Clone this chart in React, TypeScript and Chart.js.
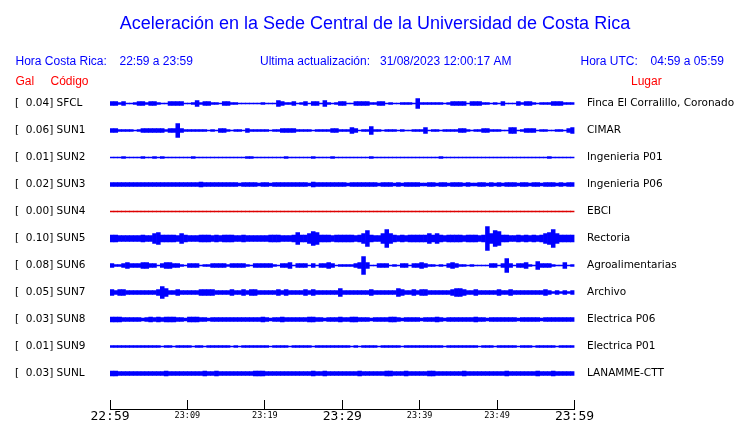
import React, { useEffect, useRef } from 'react';
import { Chart, registerables } from 'chart.js';

Chart.register(...registerables);

// ---------------- data ----------------
const titleText = 'Aceleración en la Sede Central de la Universidad de Costa Rica';
const localHoursLabel = 'Hora Costa Rica:';
const localHours = '22:59 a 23:59';
const updateLabel = 'Ultima actualización:';
const updateValue = '31/08/2023 12:00:17 AM';
const utcHoursLabel = 'Hora UTC:';
const utcHours = '04:59 a 05:59';
const galHeader = 'Gal';
const codeHeader = 'Código';
const placeHeader = 'Lugar';

const codes = ['SFCL', 'SUN1', 'SUN2', 'SUN3', 'SUN4', 'SUN5', 'SUN6', 'SUN7', 'SUN8', 'SUN9', 'SUNL'];
const galPeaks = [0.04, 0.06, 0.01, 0.02, 0.0, 0.1, 0.08, 0.05, 0.03, 0.01, 0.03];
const places = [
  'Finca El Corralillo, Coronado',
  'CIMAR',
  'Ingenieria P01',
  'Ingenieria P06',
  'EBCI',
  'Rectoria',
  'Agroalimentarias',
  'Archivo',
  'Electrica P06',
  'Electrica P01',
  'LANAMME-CTT',
];
const inactiveStations = ['SUN4'];

const timeTickLabels = ['22:59', '', '23:09', '', '23:19', '', '23:29', '', '23:39', '', '23:49', '', '23:59'];
const majorTimeLabels = ['22:59', '23:29', '23:59'];

// peak amplitude (half-height) per 30-second window, 120 windows from 22:59 to 23:59
const ampSFCL = [
  2, 2, 1, 2, 0, 0, 1, 2, 2, 1, 2, 2, 1, 0, 0, 2, 2, 2, 2, 0, 0, 1, 3, 1, 2, 2, 1, 1, 0, 2,
  2, 1, 1, 0, 0, 0, 0, 0, 0, 1, 0, 0, 0, 3, 2, 1, 1, 2, 0, 1, 2, 0, 2, 2, 0, 3, 1, 0, 1, 2,
  2, 0, 0, 2, 2, 2, 2, 1, 1, 2, 2, 0, 1, 0, 0, 1, 1, 1, 0, 5, 1, 1, 1, 1, 1, 1, 0, 1, 2, 2,
  2, 2, 0, 2, 2, 2, 1, 1, 0, 1, 0, 2, 0, 0, 0, 2, 1, 2, 2, 1, 0, 1, 1, 1, 2, 2, 2, 1, 1, 1,
];
const ampSUN1 = [
  2, 2, 1, 1, 1, 1, 0, 1, 2, 2, 2, 2, 2, 2, 1, 2, 2, 7, 2, 1, 1, 1, 1, 1, 1, 0, 1, 0, 2, 2,
  1, 0, 1, 1, 0, 2, 1, 1, 1, 1, 1, 0, 1, 1, 2, 2, 2, 2, 1, 1, 1, 1, 0, 1, 1, 1, 1, 2, 2, 1,
  1, 1, 3, 2, 0, 1, 1, 4, 1, 1, 0, 1, 1, 1, 0, 1, 0, 0, 1, 1, 1, 3, 0, 1, 1, 0, 1, 1, 1, 1,
  2, 2, 1, 0, 1, 1, 2, 2, 1, 1, 1, 0, 0, 3, 3, 0, 1, 2, 2, 2, 0, 1, 1, 0, 0, 1, 1, 0, 2, 3,
];
const ampSUN2 = [
  0, 0, 0, 1, 0, 0, 0, 0, 1, 0, 0, 1, 0, 1, 0, 0, 0, 0, 0, 0, 0, 1, 0, 0, 0, 0, 0, 0, 0, 0,
  0, 0, 0, 0, 0, 1, 1, 0, 0, 0, 0, 0, 0, 0, 0, 1, 0, 0, 0, 0, 0, 0, 1, 0, 0, 0, 0, 1, 0, 0,
  0, 0, 0, 0, 0, 0, 0, 1, 0, 0, 0, 0, 0, 0, 0, 0, 0, 0, 0, 0, 0, 0, 0, 0, 0, 1, 0, 0, 0, 0,
  0, 0, 0, 0, 0, 0, 0, 0, 0, 0, 0, 0, 0, 0, 0, 0, 0, 0, 0, 0, 0, 0, 0, 1, 0, 0, 0, 0, 0, 0,
];
const ampSUN3 = [
  2, 2, 2, 2, 2, 2, 2, 2, 2, 2, 2, 2, 2, 2, 2, 2, 2, 2, 2, 2, 2, 2, 2, 2.5, 2, 2, 2, 2, 2, 2,
  2, 2, 2, 1.5, 2, 2, 2, 2, 1.5, 2, 2, 1.5, 2, 2, 2, 2, 2, 2, 2, 2, 2, 1.5, 2.5, 2, 2, 2, 2, 2, 2, 2,
  2, 1.5, 2, 2, 2, 2, 2, 2, 2, 1.5, 2, 2, 2, 1.5, 2, 1.5, 2, 2, 2, 2, 1.5, 1.5, 2, 2, 1.5, 2, 2, 1.5, 2, 2,
  2, 1.5, 2, 1.5, 1.5, 2, 2, 1.5, 2, 1.5, 2, 1.5, 2, 2, 2, 1.5, 2, 2, 1.5, 2, 2, 1.5, 2, 2, 2, 1.5, 2, 1.5, 2, 2,
];
const ampSUN4 = [
  0, 0, 0, 0, 0, 0, 0, 0, 0, 0, 0, 0, 0, 0, 0, 0, 0, 0, 0, 0, 0, 0, 0, 0, 0, 0, 0, 0, 0, 0,
  0, 0, 0, 0, 0, 0, 0, 0, 0, 0, 0, 0, 0, 0, 0, 0, 0, 0, 0, 0, 0, 0, 0, 0, 0, 0, 0, 0, 0, 0,
  0, 0, 0, 0, 0, 0, 0, 0, 0, 0, 0, 0, 0, 0, 0, 0, 0, 0, 0, 0, 0, 0, 0, 0, 0, 0, 0, 0, 0, 0,
  0, 0, 0, 0, 0, 0, 0, 0, 0, 0, 0, 0, 0, 0, 0, 0, 0, 0, 0, 0, 0, 0, 0, 0, 0, 0, 0, 0, 0, 0,
];
const ampSUN5 = [
  3.5, 3.5, 3, 3, 3, 3, 3, 3, 3.5, 3, 3, 5, 6, 3.5, 3.5, 3.5, 3.5, 3, 5, 3.5, 3, 3, 3, 3.5, 3.5, 3.5, 3, 3.5, 3, 3.5,
  3.5, 3.5, 3, 3, 3.5, 3, 3, 3, 3, 3, 3, 3.5, 3.5, 3.5, 3, 3, 3, 3.5, 6, 3.5, 3.5, 5, 7, 6, 3.5, 3.5, 3.5, 3, 3.5, 3.5,
  3.5, 3.5, 3.5, 3, 3.5, 5, 8, 3.5, 3, 3, 5, 9, 5, 3.5, 3, 3.5, 3, 3.5, 3.5, 3.5, 3.5, 3.5, 5, 3.5, 5, 3.5, 3, 3.5, 3.5, 3.5,
  3.5, 3, 3.5, 3.5, 3.5, 3, 3.5, 12, 5, 8, 7, 3.5, 3.5, 3, 3, 3.5, 3, 3.5, 3, 3.5, 3, 3.5, 5, 6, 9, 5, 3.5, 3.5, 3.5, 3.5,
];
const ampSUN6 = [
  2, 1, 1, 2, 3, 2, 2, 2, 3, 3, 2, 2, 0, 2, 3, 3, 2, 2, 1, 0, 2, 2, 2, 0, 1, 1, 2, 2, 2, 2,
  1, 2, 2, 2, 2, 1, 0, 2, 2, 2, 2, 2, 1, 0, 2, 2, 3, 0, 2, 2, 2, 0, 2, 0, 2, 2, 3, 2, 0, 1,
  1, 1, 1, 2, 3, 9, 3, 0, 0, 2, 2, 2, 0, 1, 0, 2, 2, 0, 2, 2, 3, 2, 1, 1, 0, 1, 0, 2, 3, 2,
  1, 1, 0, 1, 0, 0, 0, 0, 2, 2, 0, 2, 7, 2, 0, 2, 2, 3, 1, 0, 4, 2, 2, 2, 1, 0, 0, 3, 0, 1,
];
const ampSUN7 = [
  3, 2, 3, 3, 2, 2, 2, 2, 2, 2, 2, 2, 3, 6, 4, 2, 2, 3, 2, 2, 2, 2, 2, 3, 3, 3, 3, 2, 2, 2,
  2, 3, 2, 2, 3, 2, 3, 3, 2, 2, 2, 2, 2, 3, 2, 3, 2, 2, 2, 2, 3, 2, 3, 2, 2, 2, 2, 2, 2, 4,
  2, 2, 2, 2, 2, 2, 2, 3, 2, 2, 2, 2, 2, 2, 4, 3, 2, 2, 3, 2, 3, 3, 2, 2, 2, 2, 2, 2, 3, 4,
  4, 3, 2, 2, 3, 2, 2, 2, 2, 2, 3, 2, 2, 3, 2, 2, 2, 2, 2, 2, 2, 2, 3, 2, 1, 2, 1, 2, 1, 2,
];
const ampSUN8 = [
  2.5, 2.5, 2.5, 2, 2, 2, 2, 2, 1.5, 2, 2.5, 2, 2.5, 2, 2.5, 2.5, 2.5, 2, 2, 1.5, 2.5, 2.5, 2.5, 2, 2, 1.5, 2, 2, 2, 2,
  2, 2, 2, 2, 2, 2, 2, 2, 2, 2.5, 2, 1.5, 2, 2, 2.5, 2, 2, 2, 2, 2, 2, 2.5, 2.5, 2, 2, 1.5, 2, 2, 2, 2.5,
  2, 2, 2.5, 2.5, 2, 2, 2, 1.5, 2, 2, 2, 2, 2.5, 2.5, 2, 1.5, 2, 2, 2, 2, 1.5, 2, 2, 2, 2.5, 2, 1.5, 2, 2, 2,
  2, 2, 2, 2, 2.5, 2, 2, 1.5, 2, 2, 2, 2, 2, 2, 2, 1.5, 2, 2, 2, 2, 2, 1.5, 2, 2, 2, 2, 2, 2, 2, 2,
];
const ampSUN9 = [
  1, 1, 1, 1, 1, 1, 1, 1, 1, 1, 1, 1, 1, 0, 1, 1, 0, 1, 1, 1, 1, 0, 1, 1, 0, 1, 1, 1, 1, 1,
  1, 0, 1, 0, 1, 1, 1, 1, 1, 1, 1, 0, 1, 1, 1, 1, 0, 1, 1, 1, 1, 1, 0, 1, 1, 1, 1, 1, 1, 1,
  1, 1, 0, 1, 0, 1, 1, 1, 1, 0, 1, 1, 1, 1, 1, 0, 1, 1, 1, 1, 1, 1, 1, 1, 1, 1, 0, 1, 1, 1,
  1, 1, 1, 1, 1, 0, 1, 1, 1, 0, 1, 1, 1, 1, 1, 0, 1, 1, 1, 0, 1, 1, 1, 1, 1, 0, 1, 1, 1, 1,
];
const ampSUNL = [
  2.5, 2.5, 2, 2, 2, 2, 2, 2, 2, 2, 2, 2, 2, 2, 2.5, 2, 2, 2, 2, 2, 2, 2, 2, 2, 2.5, 2, 2, 2.5, 2, 2,
  2, 2, 2, 2, 2, 2, 2, 2.5, 2.5, 2.5, 2, 2, 2, 2, 2, 2, 2, 2, 2, 2, 2, 2, 2.5, 2, 2, 2.5, 2, 2, 2, 2,
  2, 2, 2, 2, 2.5, 2, 2, 2, 2, 2, 2, 2.5, 2.5, 2, 2, 2, 2.5, 2, 2, 2, 2, 2, 2.5, 2.5, 2, 2, 2, 2, 2, 2,
  2, 2.5, 2, 2, 2, 2, 2, 2, 2, 2, 2, 2, 2.5, 2, 2, 2, 2, 2, 2, 2, 2.5, 2, 2, 2, 2.5, 2, 2, 2, 2, 2,
];

const amplitudes = [ampSFCL, ampSUN1, ampSUN2, ampSUN3, ampSUN4, ampSUN5, ampSUN6, ampSUN7, ampSUN8, ampSUN9, ampSUNL];

// ---------------- styling ----------------
const BLUE = '#0000ff';
const RED = '#ff0000';
const TRACE_RED = '#dd0000';
const PX_PER_ROW = 27;
const Y_MIN = -14.5 / PX_PER_ROW;
const Y_MAX = Y_MIN + 320 / PX_PER_ROW;
const SANS = '"Liberation Sans", Arial, sans-serif';

const binLabels = ampSFCL.map((_, i) => {
  const totalSec = (22 * 60 + 59) * 60 + i * 30;
  const h = Math.floor(totalSec / 3600) % 24;
  const m = Math.floor((totalSec % 3600) / 60);
  const s = totalSec % 60;
  return `${String(h).padStart(2, '0')}:${String(m).padStart(2, '0')}:${String(s).padStart(2, '0')}`;
});

const leftLabels = codes.map((c, i) => `[${galPeaks[i].toFixed(2).padStart(6, ' ')}] ${c}`);

const headerPlugin = {
  id: 'headerText',
  afterDraw(chart: any) {
    const ctx = chart.ctx as CanvasRenderingContext2D;
    ctx.save();
    ctx.textBaseline = 'middle';
    ctx.textAlign = 'center';
    ctx.fillStyle = BLUE;
    ctx.font = `18px ${SANS}`;
    ctx.fillText(titleText, 375, 24);
    ctx.textAlign = 'left';
    ctx.font = `12px ${SANS}`;
    ctx.fillText(localHoursLabel, 15.5, 61.5);
    ctx.fillText(localHours, 119.5, 61.5);
    ctx.fillText(updateLabel, 260, 61.5);
    ctx.fillText(updateValue, 380, 61.5);
    ctx.fillText(utcHoursLabel, 580.5, 61.5);
    ctx.fillText(utcHours, 650.5, 61.5);
    ctx.fillStyle = RED;
    ctx.fillText(galHeader, 15.5, 81.5);
    ctx.fillText(codeHeader, 50.5, 81.5);
    ctx.fillText(placeHeader, 631, 81.5);
    ctx.restore();
  },
};

export default function App() {
  const canvasRef = useRef<HTMLCanvasElement>(null);

  useEffect(() => {
    const canvas = canvasRef.current;
    if (!canvas) return;
    const rows = codes.map((_, i) => i);
    const datasets = amplitudes.map((amp, row) => ({
      label: codes[row],
      data: amp.map((v) => {
        const h = Math.max(0.5, v) / PX_PER_ROW;
        return [row - h, row + h];
      }),
      backgroundColor: inactiveStations.includes(codes[row]) ? TRACE_RED : BLUE,
      borderWidth: 0,
      barPercentage: 1,
      categoryPercentage: 1,
      grouped: false,
      xAxisID: 'x',
      yAxisID: 'y',
    }));

    const chart = new Chart(canvas, {
      type: 'bar',
      data: { labels: binLabels, datasets: datasets as any },
      options: {
        animation: false,
        responsive: false,
        devicePixelRatio: 1,
        events: [],
        layout: { padding: { top: 89, left: 15, right: 0, bottom: 0 } },
        plugins: {
          legend: { display: false },
          tooltip: { enabled: false },
          title: { display: false },
        },
        scales: {
          x: { type: 'category', display: false, offset: true },
          time: {
            type: 'linear',
            axis: 'x',
            position: 'bottom',
            min: 0,
            max: 60,
            offset: false,
            grid: {
              display: true,
              drawOnChartArea: false,
              drawTicks: true,
              tickLength: -9,
              color: '#000',
              lineWidth: 1,
              offset: false,
            },
            border: { display: true, color: '#000', width: 1 },
            ticks: {
              stepSize: 5,
              autoSkip: false,
              maxRotation: 0,
              minRotation: 0,
              padding: 9,
              color: '#000',
              callback: (_v: any, i: number) => timeTickLabels[i],
              font: (ctx: any) => {
                const major = majorTimeLabels.includes(timeTickLabels[ctx.index]);
                return {
                  family: '"DejaVu Sans Mono", monospace',
                  size: major ? 13 : 8.5,
                  lineHeight: major ? 1.2 : 1.55,
                };
              },
            },
            afterFit: (s: any) => {
              s.height = 14;
            },
          } as any,
          y: {
            type: 'linear',
            position: 'left',
            reverse: true,
            min: Y_MIN,
            max: Y_MAX,
            grid: { display: false },
            border: { display: false },
            afterBuildTicks: (s: any) => {
              s.ticks = rows.map((v) => ({ value: v }));
            },
            ticks: {
              autoSkip: false,
              crossAlign: 'far',
              padding: 0,
              color: '#000',
              font: { family: '"DejaVu Sans", sans-serif', size: 10.5 },
              callback: (_v: any, i: number) => leftLabels[i],
            },
            afterFit: (s: any) => {
              s.width = 95;
            },
          } as any,
          yR: {
            type: 'linear',
            position: 'right',
            reverse: true,
            min: Y_MIN,
            max: Y_MAX,
            grid: {
              display: true,
              drawOnChartArea: false,
              drawTicks: true,
              tickLength: 12.5,
              color: 'rgba(0,0,0,0)',
            },
            border: { display: false },
            afterBuildTicks: (s: any) => {
              s.ticks = rows.map((v) => ({ value: v }));
            },
            ticks: {
              autoSkip: false,
              crossAlign: 'near',
              padding: 0,
              color: '#000',
              font: { family: '"DejaVu Sans", sans-serif', size: 10.5 },
              callback: (_v: any, i: number) => places[i],
            },
            afterFit: (s: any) => {
              s.width = 165.5;
            },
          } as any,
        },
      },
      plugins: [headerPlugin],
    });

    return () => chart.destroy();
  }, []);

  return (
    <canvas
      ref={canvasRef}
      width={740}
      height={423}
      style={{ position: 'absolute', left: 0, top: 0, display: 'block', width: 740, height: 423 }}
    />
  );
}
